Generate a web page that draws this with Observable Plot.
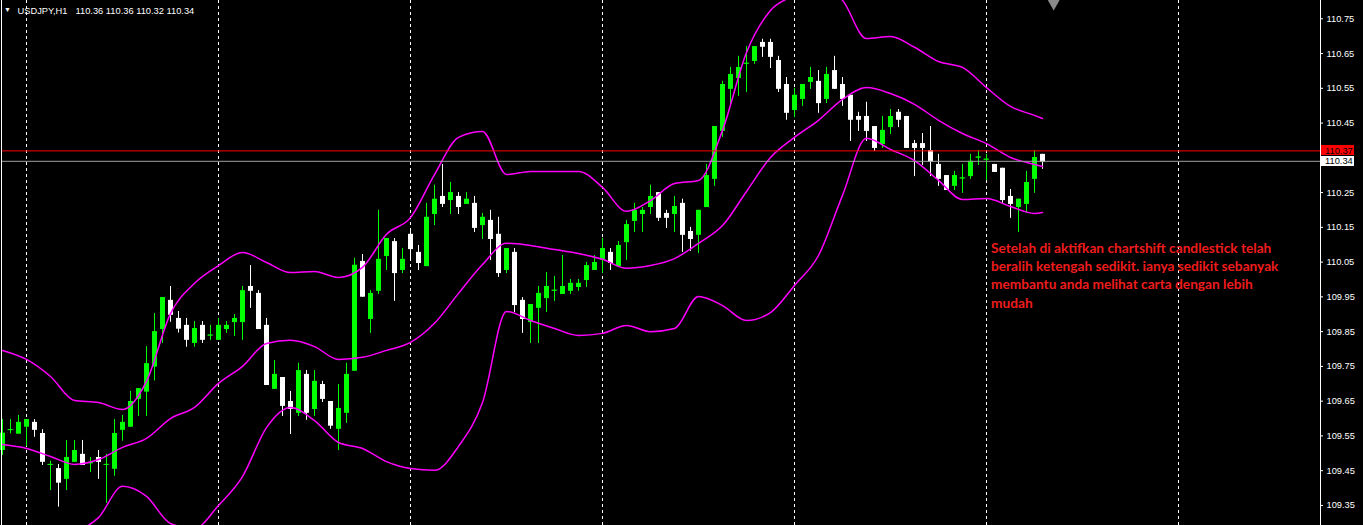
<!DOCTYPE html>
<html><head><meta charset="utf-8">
<script src="https://cdn.jsdelivr.net/npm/d3@7"></script>
<script src="https://cdn.jsdelivr.net/npm/@observablehq/plot@0.6"></script>
<style>
html,body{margin:0;padding:0;background:#000;overflow:hidden}
#chart{width:1363px;height:525px}
</style></head><body><div id="chart"></div>
<script>
const symbolLabel = "USDJPY,H1";
const lastQuote = "110.36 110.36 110.32 110.34";

const open = [109.508,109.566,109.555,109.575,109.589,109.557,109.466,109.456,109.425,109.474,
109.497,109.470,109.488,109.467,109.454,109.566,109.575,109.655,109.676,109.748,
109.856,109.940,109.888,109.868,109.816,109.868,109.838,109.825,109.856,109.876,
109.876,109.980,109.960,109.868,109.684,109.718,109.649,109.615,109.727,109.626,
109.698,109.649,109.569,109.615,109.736,110.052,109.885,109.966,110.066,110.109,
110.026,110.130,110.078,110.037,110.187,110.239,110.227,110.239,110.216,110.219,
110.155,110.170,110.130,110.026,110.078,109.940,109.876,109.917,109.945,109.967,
109.957,109.966,109.977,109.997,110.026,110.055,110.078,110.037,110.106,110.167,
110.187,110.207,110.250,110.190,110.187,110.219,110.138,110.127,110.207,110.288,
110.426,110.547,110.578,110.620,110.627,110.682,110.682,110.630,110.561,110.486,
110.518,110.567,110.570,110.518,110.601,110.561,110.530,110.469,110.469,110.440,
110.388,110.437,110.481,110.469,110.391,110.391,110.371,110.331,110.299,110.268,
110.290,110.296,110.350,110.344,110.331,110.320,110.239,110.207,110.216,110.288,
110.360];
const high = [109.597,109.597,109.609,109.597,109.597,109.568,109.477,109.468,109.537,109.537,
109.537,109.488,109.508,109.497,109.597,109.609,109.678,109.686,109.807,109.902,
109.948,109.980,109.908,109.888,109.879,109.879,109.868,109.888,109.879,109.899,
109.980,110.040,109.968,109.888,109.767,109.718,109.678,109.759,109.738,109.738,
109.707,109.649,109.698,109.759,110.061,110.072,109.968,110.199,110.118,110.118,
110.089,110.138,110.098,110.219,110.271,110.331,110.279,110.250,110.250,110.239,
110.190,110.199,110.179,110.089,110.089,109.948,109.928,109.980,110.020,110.009,
110.069,110.000,110.000,110.049,110.069,110.118,110.089,110.109,110.170,110.219,
110.207,110.271,110.250,110.199,110.239,110.231,110.150,110.199,110.331,110.440,
110.570,110.610,110.642,110.670,110.670,110.691,110.691,110.642,110.581,110.550,
110.561,110.610,110.601,110.610,110.642,110.581,110.530,110.481,110.510,110.440,
110.469,110.489,110.489,110.469,110.400,110.420,110.440,110.360,110.299,110.311,
110.331,110.360,110.371,110.360,110.331,110.320,110.259,110.231,110.311,110.371,
110.360];
const low = [109.494,109.556,109.555,109.520,109.546,109.465,109.393,109.345,109.393,109.474,
109.465,109.445,109.425,109.356,109.434,109.535,109.575,109.606,109.606,109.708,
109.816,109.877,109.846,109.805,109.805,109.816,109.825,109.825,109.845,109.836,
109.825,109.917,109.856,109.695,109.684,109.606,109.554,109.606,109.595,109.606,
109.646,109.569,109.508,109.586,109.736,109.949,109.845,109.957,110.026,109.937,
110.017,110.055,110.026,110.037,110.155,110.207,110.187,110.187,110.216,110.135,
110.115,110.055,110.006,110.017,109.905,109.845,109.816,109.816,109.905,109.937,
109.957,109.957,109.966,109.977,110.026,110.017,110.026,110.037,110.055,110.135,
110.135,110.187,110.167,110.147,110.135,110.078,110.081,110.075,110.207,110.268,
110.409,110.498,110.527,110.538,110.619,110.639,110.607,110.538,110.458,110.466,
110.498,110.547,110.478,110.506,110.547,110.498,110.397,110.426,110.397,110.368,
110.377,110.417,110.437,110.377,110.296,110.328,110.296,110.268,110.256,110.256,
110.248,110.288,110.328,110.285,110.308,110.216,110.176,110.135,110.190,110.248,
110.317];
const close = [109.558,109.568,109.589,109.597,109.566,109.474,109.468,109.414,109.488,109.508,
109.465,109.473,109.474,109.468,109.557,109.589,109.649,109.686,109.758,109.850,
109.948,109.897,109.857,109.825,109.859,109.825,109.840,109.868,109.868,109.888,
109.968,109.966,109.856,109.695,109.727,109.635,109.626,109.738,109.615,109.707,
109.655,109.578,109.629,109.727,110.041,109.949,109.960,110.058,110.118,110.017,
110.058,110.086,110.046,110.179,110.231,110.216,110.250,110.207,110.231,110.147,
110.179,110.115,110.017,110.089,109.925,109.885,109.928,109.960,109.980,109.969,
109.980,109.989,109.989,110.040,110.049,110.089,110.046,110.098,110.158,110.199,
110.199,110.239,110.176,110.176,110.210,110.127,110.115,110.199,110.299,110.440,
110.561,110.590,110.610,110.622,110.670,110.668,110.639,110.547,110.478,110.530,
110.561,110.581,110.506,110.590,110.547,110.518,110.458,110.458,110.426,110.377,
110.429,110.469,110.458,110.377,110.377,110.377,110.337,110.288,110.256,110.299,
110.292,110.340,110.352,110.346,110.308,110.227,110.216,110.231,110.279,110.351,
110.337];

// Bollinger bands (bar index, price)
const bandIdx = [0,3,6,9,12,15,18,21,24,27,30,33,36,39,42,45,48,51,54,57,60,63,66,69,72,75,78,81,84,87,90,93,96,99,102,105,108,111,114,117,120,123,126,129,130];
const upperBand = [109.796,109.770,109.721,109.652,109.646,109.626,109.707,109.902,109.989,110.040,110.078,110.049,110.020,110.023,110.006,110.035,110.130,110.178,110.302,110.409,110.426,110.302,110.311,110.311,110.311,110.265,110.196,110.227,110.276,110.285,110.429,110.653,110.774,110.817,110.846,110.803,110.693,110.699,110.668,110.627,110.610,110.552,110.498,110.472,110.463];
const middleBand = [109.525,109.514,109.491,109.468,109.482,109.517,109.543,109.600,109.632,109.701,109.750,109.816,109.825,109.807,109.770,109.776,109.796,109.819,109.874,109.960,110.043,110.104,110.098,110.086,110.075,110.058,110.032,110.040,110.060,110.104,110.155,110.253,110.351,110.409,110.458,110.518,110.552,110.535,110.504,110.458,110.420,110.391,110.351,110.331,110.325];
const lowerIdx = [9,12,15,18,21,24,27,30,33,36,39,42,45,48,51,54,57,60,63,66,69,72,75,78,81,84,87,90,93,96,99,102,105,108,111,114,117,120,123,126,129,130];
const lowerBand = [109.272,109.315,109.405,109.376,109.298,109.284,109.350,109.433,109.574,109.632,109.594,109.531,109.514,109.476,109.456,109.451,109.520,109.646,109.908,109.882,109.859,109.839,109.845,109.868,109.850,109.859,109.951,109.925,109.882,109.905,109.983,110.069,110.242,110.406,110.374,110.342,110.285,110.230,110.233,110.210,110.190,110.193];

const dayStartIdx = [3,27,51,75,99,123,147];
const priceTicks = [110.75,110.65,110.55,110.45,110.25,110.15,110.05,109.95,109.85,109.75,109.65,109.55,109.45,109.35];
const askPrice = 110.37;
const bidPrice = 110.34;
const noteLines = ["Setelah di aktifkan chartshift candlestick telah","beralih ketengah sedikit. ianya sedikit sebanyak","membantu anda melihat carta dengan lebih","mudah"];
const noteAnchor = {i: 123, price: 110.015};
const shiftMarkerIdx = 131.4;

const UP = "#00ff00", DOWN = "#ffffff", BAND = "#ff00ff";
const FONT = "Liberation Sans";

const candles = open.map((o, i) => ({i, o, h: high[i], l: low[i], c: close[i]}));
const ups = candles.filter(d => d.c >= d.o);
const downs = candles.filter(d => d.c < d.o);
const toPts = (idx, vals) => idx.map((i, k) => ({i, p: vals[k]}));

function candleMarks(data, color) {
  return [
    Plot.ruleX(data, {x: "i", y1: "l", y2: "h", stroke: color, strokeWidth: 1}),
    Plot.ruleX(data, {x: "i", y1: "o", y2: "c", stroke: color, strokeWidth: 5, strokeLinecap: "butt"}),
    Plot.ruleY(data.filter(d => Math.abs(d.o - d.c) < 0.004), {y: "c", x1: d => d.i - 0.3125, x2: d => d.i + 0.3125, stroke: color})
  ];
}

const plot = Plot.plot({
  width: 1363, height: 525,
  marginLeft: 1, marginRight: 43, marginTop: 0, marginBottom: 0,
  style: {background: "#000", color: "#fff", fontFamily: FONT, fontSize: "9.3px"},
  x: {domain: [-0.125, 164.75], axis: null},
  y: {domain: [109.2923, 110.8026], axis: null},
  marks: [
    Plot.ruleX(dayStartIdx, {x: d => d, stroke: "#fff", strokeDasharray: "3,3"}),
    ...candleMarks(ups, UP),
    ...candleMarks(downs, DOWN),
    Plot.line(toPts(bandIdx, upperBand), {x: "i", y: "p", stroke: BAND, curve: "monotone-x", clip: true}),
    Plot.line(toPts(bandIdx, middleBand), {x: "i", y: "p", stroke: BAND, curve: "monotone-x", clip: true}),
    Plot.line(toPts(lowerIdx, lowerBand), {x: "i", y: "p", stroke: BAND, curve: "monotone-x", clip: true}),
    Plot.ruleY([askPrice], {y: d => d, stroke: "#ff0000"}),
    Plot.ruleY([bidPrice], {y: d => d, stroke: "#a0a0a0"}),
    Plot.frame({anchor: "left", stroke: "#fff"}),
    Plot.frame({anchor: "right", stroke: "#fff"}),
    Plot.axisY(priceTicks, {anchor: "right", tickSize: 2, tickPadding: 4, tickFormat: d3.format(".2f"), label: null, fill: "#fff", stroke: "#fff", fontSize: 9.3}),
    Plot.text(["▼"], {frameAnchor: "top-left", dx: 6, dy: 7, fontSize: 7, fill: "#fff", textAnchor: "middle"}),
    Plot.text([symbolLabel], {frameAnchor: "top-left", dx: 16, dy: 7, textAnchor: "start", fill: "#fff", fontSize: 9.3}),
    Plot.text([lastQuote], {frameAnchor: "top-left", dx: 74, dy: 7, textAnchor: "start", fill: "#fff", fontSize: 9.3}),
    Plot.dot([{i: shiftMarkerIdx}], {x: "i", frameAnchor: "top", symbol: "diamond", r: 6, fill: "#8a8a8a"}),
    Plot.text([noteLines.join("\n")], {x: () => noteAnchor.i, y: () => noteAnchor.price, dx: 4.5, textAnchor: "start", lineAnchor: "middle", lineHeight: 1.34, fill: "#ee1c1c", fontFamily: "Lato", fontWeight: "bold", fontSize: 13.7})
  ]
});

// price labels on the right scale (ask / bid boxes)
const yS = plot.scale("y");
const svg = d3.select(plot);
[[askPrice, "#ff0000", "#000"], [bidPrice, "#ffffff", "#000"]].forEach(([p, bg, fg]) => {
  const yy = yS.apply(p);
  const g = svg.append("g").attr("text-anchor", "start");
  g.append("rect").attr("x", 1321).attr("y", Math.round(yy) - 5).attr("width", 33).attr("height", 10).attr("fill", bg);
  g.append("text").attr("x", 1325).attr("y", yy).attr("dy", "0.35em").attr("fill", fg)
    .attr("text-anchor", "start").attr("font-family", FONT).attr("font-size", 9.3).text(d3.format(".2f")(p));
});
document.getElementById("chart").appendChild(plot);
</script></body></html>
